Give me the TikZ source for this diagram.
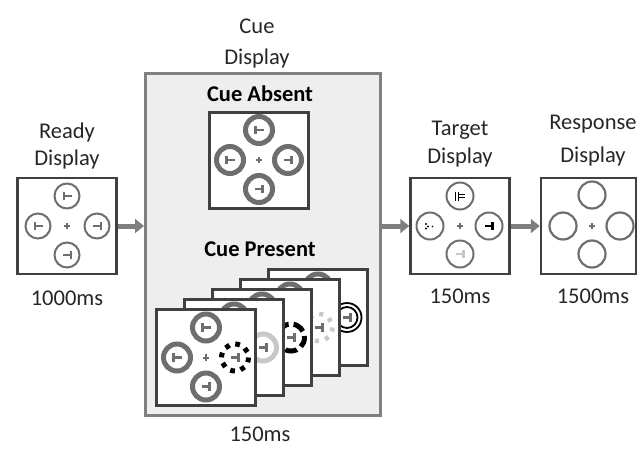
\documentclass[tikz,border=0pt]{standalone}
\usepackage{fontspec}
\setmainfont{Carlito}
\usetikzlibrary{arrows.meta}
\definecolor{ring}{HTML}{6E6E6E}
\definecolor{frameC}{HTML}{404040}
\definecolor{cueBorder}{HTML}{808080}
\definecolor{cueFill}{HTML}{EEEEEE}
\definecolor{lightRing}{HTML}{C8C8C8}
\definecolor{arrowC}{HTML}{7F7F7F}
\definecolor{txt}{HTML}{262626}
\tikzset{
  lbl/.style={font=\fontsize{22.5}{27}\selectfont, text=txt, anchor=base, inner sep=0pt},
  hdr/.style={font=\fontsize{22.5}{27}\selectfont\bfseries, text=black, anchor=base, inner sep=0pt},
  screen/.style={draw=frameC, line width=2.5pt, fill=white, minimum width=99pt, minimum height=96pt, inner sep=0pt},
  thinring/.style={draw=ring, line width=2pt},
  thickring/.style={draw=ring, line width=5pt},
  flow/.style={draw=arrowC, line width=5pt, -{Triangle[length=9pt,width=14pt]}},
  pics/tR/.style={code={\draw[pic actions] (-3.5,-4.2)--(-3.5,4.2) (-3.5,0)--(4.5,0);}},
  pics/tL/.style={code={\draw[pic actions] (3.5,-4.2)--(3.5,4.2) (3.5,0)--(-4.5,0);}},
  pics/plus/.style={code={\draw[pic actions] (-3.2,0)--(3.2,0) (0,-3.2)--(0,3.2);}},
}
% rings top/left/bottom + plus + Ts, drawn around the current origin
\newcommand\basearray[3]{%
  \draw[#1] (0,-30) circle[radius=#3] (-29,0) circle[radius=#3] (0,29) circle[radius=#3];
  \pic[draw=ring, line width=#2] at (0,-30) {tR};
  \pic[draw=ring, line width=#2] at (-29,0) {tR};
  \pic[draw=ring, line width=#2] at (0,29) {tL};
  \pic[draw=ring, line width=2pt] at (0,0) {plus};
}
\begin{document}
\begin{tikzpicture}[x=1pt,y=-1pt]
\useasboundingbox (0,0) rectangle (639,448);

% ---------- Ready display ----------
\node[lbl] (readyA) at (67,138) {Ready};
\node[lbl] (readyB) at (67,165) {Display};
\node[screen] (ready) at (67,226) {};
\begin{scope}[shift={(67,226)}]
  \basearray{thinring}{2pt}{12.5}
  \draw[thinring] (30,0) circle[radius=12.5];
  \pic[draw=ring, line width=2pt] at (30,0) {tL};
\end{scope}
\node[lbl] (readyT) at (67,305) {1000ms};

% ---------- Cue display ----------
\node[lbl] (cueA) at (257,33) {Cue};
\node[lbl] (cueB) at (257,64) {Display};
\node[draw=cueBorder, fill=cueFill, line width=3pt, minimum width=235pt, minimum height=342pt, inner sep=0pt] (cue) at (263,244.5) {};
\node[hdr] (absent) at (260,101) {Cue Absent};
\node[screen] (abs) at (259,160.5) {};
\begin{scope}[shift={(259,160)}]
  \basearray{thickring}{2.4pt}{13.5}
  \draw[thickring] (29,0) circle[radius=13.5];
  \pic[draw=ring, line width=2.4pt] at (29,0) {tL};
\end{scope}
\node[hdr] (present) at (260,256) {Cue Present};

% frame 5 (back): double ring
\node[screen] (f5) at (318,317.5) {};
\begin{scope}[shift={(318,317.5)}]
  \basearray{thickring}{2.4pt}{13.5}
  \draw[black, line width=1.8pt] (29,0) circle[radius=14.5] (29,0) circle[radius=10.5];
  \pic[draw=ring, line width=2.4pt] at (29,0) {tL};
\end{scope}
% frame 4: light grey small dashes
\node[screen] (f4) at (290,327.5) {};
\begin{scope}[shift={(290,327.5)}]
  \basearray{thickring}{2.4pt}{13.5}
  \draw[lightRing, line width=4.5pt, dash pattern=on 4pt off 6.6pt] (29,0) circle[radius=13.5];
  \pic[draw=ring, line width=2.4pt] at (29,0) {tL};
\end{scope}
% frame 3: black long dashes
\node[screen] (f3) at (262,337.5) {};
\begin{scope}[shift={(262,337.5)}]
  \basearray{thickring}{2.4pt}{13.5}
  \draw[black, line width=5pt, dash pattern=on 12pt off 5pt, dash phase=2pt] (29,0) circle[radius=13.5];
  \pic[draw=ring, line width=2.4pt] at (29,0) {tL};
\end{scope}
% frame 2: light grey solid
\node[screen] (f2) at (234,347.5) {};
\begin{scope}[shift={(234,347.5)}]
  \basearray{thickring}{2.4pt}{13.5}
  \draw[lightRing, line width=5pt] (29,0) circle[radius=13.5];
  \pic[draw=ring, line width=2.4pt] at (29,0) {tL};
\end{scope}
% frame 1 (front): black small dashes
\node[screen] (f1) at (206,357.5) {};
\begin{scope}[shift={(206,357.5)}]
  \basearray{thickring}{2.4pt}{13.5}
  \draw[black, line width=5pt, dash pattern=on 4.8pt off 5.8pt] (29,0) circle[radius=13.5];
  \pic[draw=ring, line width=2.4pt] at (29,0) {tL};
\end{scope}
\node[lbl] (cueT) at (260,441) {150ms};

% ---------- Target display ----------
\node[lbl] (targetA) at (460,135) {Target};
\node[lbl] (targetB) at (460,163) {Display};
\node[screen] (target) at (460,226) {};
\begin{scope}[shift={(460,226)}]
  \draw[thinring] (0,-30) circle[radius=13.5] (-30,0) circle[radius=13.5] (29,0) circle[radius=13.5] (0,28) circle[radius=13.5];
  \draw[black, line width=0.9pt] (-4.5,-34.5)--(-4.5,-25.5) (-2,-34.5)--(-2,-25.5) (-2,-31.6)--(4.5,-31.6) (-2,-28.4)--(4.5,-28.4);
  \fill[black] (-34,-2) circle[radius=1.2] (-32,0.5) circle[radius=1.2] (-34,2.5) circle[radius=1.1] (-27.5,0.5) circle[radius=0.9];
  \pic[draw=black, line width=2.8pt] at (29,0) {tL};
  \pic[draw=lightRing, line width=2.2pt] at (0,28) {tL};
  \pic[draw=ring, line width=2pt] at (0,0) {plus};
\end{scope}
\node[lbl] (targetT) at (460,303) {150ms};

% ---------- Response display ----------
\node[lbl] (respA) at (593,129) {Response};
\node[lbl] (respB) at (593,162) {Display};
\node[draw=frameC, line width=2.5pt, fill=white, minimum width=95pt, minimum height=96pt, inner sep=0pt] (resp) at (588.5,226) {};
\begin{scope}[shift={(592,226)}]
  \draw[thinring, line width=2.2pt] (0,-31) circle[radius=13.5] (-29,0) circle[radius=13.5] (28,0) circle[radius=13.5] (0,28) circle[radius=13.5];
  \pic[draw=ring, line width=2pt] at (0,0) {plus};
\end{scope}
\node[lbl] (respT) at (593,303) {1500ms};

% ---------- arrows ----------
\draw[flow] (ready.east) -- (ready.east -| cue.west);
\draw[flow] (target.west -| cue.east) -- (target.west);
\draw[flow] (target.east) -- (resp.west);
\end{tikzpicture}
\end{document}
